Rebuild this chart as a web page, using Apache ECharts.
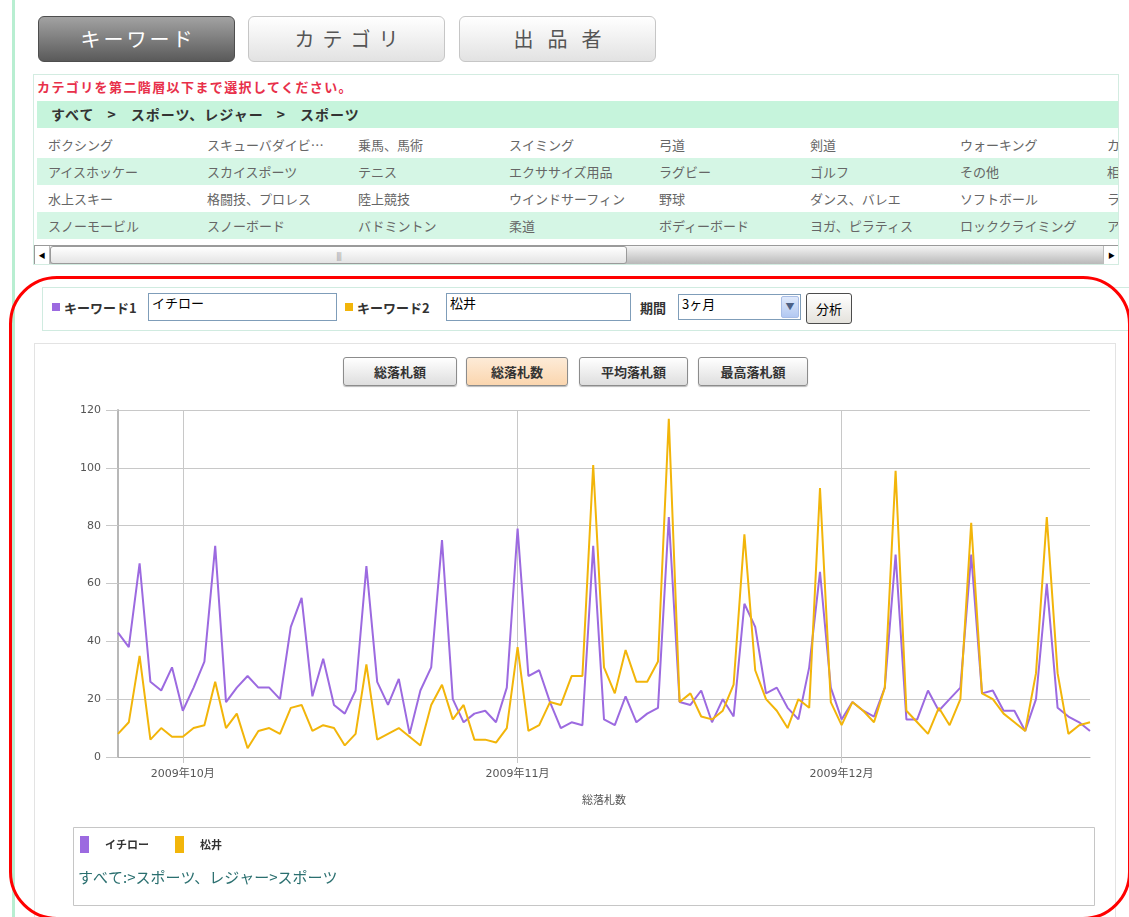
<!DOCTYPE html>
<html><head><meta charset="utf-8">
<script src="https://cdn.jsdelivr.net/npm/echarts/dist/echarts.min.js"></script>
<style>
html,body{margin:0;padding:0;}
body{width:1129px;height:917px;overflow:hidden;background:#fff;position:relative;font-family:"Noto Sans CJK JP",sans-serif;}
.a{position:absolute;box-sizing:border-box;white-space:nowrap;}
.tab{border-radius:6px;text-align:center;line-height:44px;font-size:20px;height:46px;top:16px;}
.tab.on{background:linear-gradient(#a2a2a2,#5a5a5a);border:1px solid #4e4e4e;color:#fff;}
.tab.off{background:linear-gradient(#ffffff,#e2e2e2);border:1px solid #c6c6c6;color:#555;}
.row{left:37px;width:1081px;height:27px;}
.row.g{background:#d5f6e5;}
.cell{font-size:13px;color:#666;line-height:27px;top:0;}
.lbl{font-size:13px;font-weight:bold;color:#333;line-height:16px;}
.inp{border:1px solid #7f9db9;background:#fff;font-size:13px;color:#000;padding:1px 3px;line-height:16px;}
.cbtn{top:357px;height:29px;border:1px solid #8c8c8c;border-radius:3px;background:linear-gradient(#ffffff,#dedede);font-size:13px;font-weight:bold;color:#333;text-align:center;line-height:27px;box-shadow:0 1px 1px #bbb;}
.cbtn.on{background:linear-gradient(#fdebd7,#fbd6af);}
</style>
</head><body>
<!-- left green guide line -->
<div class="a" style="left:12px;top:0;width:3px;height:917px;background:#b8eed1;"></div>

<!-- top tabs -->
<div class="a tab on" style="left:38px;width:197px;letter-spacing:3px;padding-left:3px;">キーワード</div>
<div class="a tab off" style="left:248px;width:197px;letter-spacing:8px;padding-left:8px;">カテゴリ</div>
<div class="a tab off" style="left:459px;width:197px;letter-spacing:14px;padding-left:14px;">出品者</div>

<!-- category box -->
<div class="a" style="left:33px;top:74px;width:1086px;height:191px;border:1px solid #d3ece1;overflow:hidden;">
  <div class="a" style="left:3px;top:4px;font-size:13px;font-weight:bold;color:#e8304a;letter-spacing:1.4px;line-height:16px;">カテゴリを第二階層以下まで選択してください。</div>
  <div class="a" style="left:3px;top:26px;width:1081px;height:27px;background:#c6f4dc;"></div>
  <div class="a" style="left:17px;top:26px;line-height:27px;font-size:14px;font-weight:bold;color:#333;letter-spacing:1px;">すべて<span style="margin:0 14px 0 13px;">&gt;</span>スポーツ、レジャー<span style="margin:0 14px 0 13px;">&gt;</span>スポーツ</div>
  <div class="a row" style="left:3px;top:56px;">
    <span class="a cell" style="left:11px;">ボクシング</span><span class="a cell" style="left:170px;">スキューバダイビ…</span><span class="a cell" style="left:321px;">乗馬、馬術</span><span class="a cell" style="left:472px;">スイミング</span><span class="a cell" style="left:622px;">弓道</span><span class="a cell" style="left:773px;">剣道</span><span class="a cell" style="left:923px;">ウォーキング</span><span class="a cell" style="left:1070px;">カヌー</span>
  </div>
  <div class="a row g" style="left:3px;top:83px;">
    <span class="a cell" style="left:11px;">アイスホッケー</span><span class="a cell" style="left:170px;">スカイスポーツ</span><span class="a cell" style="left:321px;">テニス</span><span class="a cell" style="left:472px;">エクササイズ用品</span><span class="a cell" style="left:622px;">ラグビー</span><span class="a cell" style="left:773px;">ゴルフ</span><span class="a cell" style="left:923px;">その他</span><span class="a cell" style="left:1070px;">相撲</span>
  </div>
  <div class="a row" style="left:3px;top:110px;">
    <span class="a cell" style="left:11px;">水上スキー</span><span class="a cell" style="left:170px;">格闘技、プロレス</span><span class="a cell" style="left:321px;">陸上競技</span><span class="a cell" style="left:472px;">ウインドサーフィン</span><span class="a cell" style="left:622px;">野球</span><span class="a cell" style="left:773px;">ダンス、バレエ</span><span class="a cell" style="left:923px;">ソフトボール</span><span class="a cell" style="left:1070px;">ラクロス</span>
  </div>
  <div class="a row g" style="left:3px;top:137px;">
    <span class="a cell" style="left:11px;">スノーモービル</span><span class="a cell" style="left:170px;">スノーボード</span><span class="a cell" style="left:321px;">バドミントン</span><span class="a cell" style="left:472px;">柔道</span><span class="a cell" style="left:622px;">ボディーボード</span><span class="a cell" style="left:773px;">ヨガ、ピラティス</span><span class="a cell" style="left:923px;">ロッククライミング</span><span class="a cell" style="left:1070px;">アーチェリー</span>
  </div>
  <!-- scrollbar -->
  <div class="a" style="left:0;top:170px;width:1086px;height:20px;border:1px solid #9a9a9a;background:linear-gradient(#f4f4f4,#b9b9b9);">
    <div class="a" style="left:0;top:0;width:15px;height:18px;background:#fff;border-right:1px solid #bbb;font-size:7px;line-height:18px;text-align:center;color:#000;">◀</div>
    <div class="a" style="left:15px;top:0;width:577px;height:18px;background:linear-gradient(#ffffff,#e4e4e4);border:1px solid #9a9a9a;border-radius:3px;text-align:center;font-size:8px;line-height:17px;color:#999;letter-spacing:-1px;">||||</div>
    <div class="a" style="left:1068px;top:0;width:16px;height:18px;background:#fff;border-left:1px solid #bbb;font-size:7px;line-height:18px;text-align:center;color:#000;">▶</div>
  </div>
</div>

<!-- search form box -->
<div class="a" style="left:42px;top:287px;width:1090px;height:44px;border:1px solid #d0ebe0;"></div>
<div class="a" style="left:52px;top:303px;width:8px;height:8px;background:#9c6ae0;"></div>
<div class="a lbl" style="left:64px;top:300px;">キーワード1</div>
<div class="a inp" style="left:148px;top:293px;width:189px;height:28px;">イチロー</div>
<div class="a" style="left:345px;top:303px;width:8px;height:8px;background:#f2b50a;"></div>
<div class="a lbl" style="left:357px;top:300px;">キーワード2</div>
<div class="a inp" style="left:446px;top:293px;width:185px;height:28px;">松井</div>
<div class="a lbl" style="left:640px;top:300px;">期間</div>
<div class="a inp" style="left:678px;top:294px;width:123px;height:26px;">3ヶ月
  <div class="a" style="right:1px;top:1px;width:18px;height:22px;background:linear-gradient(#dfe9fb,#b2c8f2);border:1px solid #a8bde6;border-radius:2px;font-size:9px;line-height:20px;text-align:center;color:#4d6185;">▼</div>
</div>
<div class="a" style="left:806px;top:293px;width:46px;height:31px;border:1px solid #4c4c4c;border-radius:3px;background:linear-gradient(#ffffff,#e4e2dc);font-size:13px;text-align:center;line-height:29px;color:#000;">分析</div>

<!-- chart box -->
<div class="a" style="left:34px;top:343px;width:1082px;height:600px;border:1px solid #e3e3e3;"></div>
<div class="a cbtn" style="left:343px;width:114px;">総落札額</div>
<div class="a cbtn on" style="left:466px;width:102px;">総落札数</div>
<div class="a cbtn" style="left:579px;width:109px;">平均落札額</div>
<div class="a cbtn" style="left:698px;width:110px;">最高落札額</div>

<div id="chart" class="a" style="left:35px;top:390px;width:1080px;height:527px;"></div>

<!-- red highlight outline -->
<div class="a" style="left:9px;top:276px;width:1122px;height:644px;border:3px solid #ff0000;border-radius:48px;pointer-events:none;"></div>

<script>
const dates = [
"2009-09-25","2009-09-26","2009-09-27","2009-09-28","2009-09-29","2009-09-30",
"2009-10-01","2009-10-02","2009-10-03","2009-10-04","2009-10-05","2009-10-06","2009-10-07","2009-10-08","2009-10-09","2009-10-10",
"2009-10-11","2009-10-12","2009-10-13","2009-10-14","2009-10-15","2009-10-16","2009-10-17","2009-10-18","2009-10-19","2009-10-20",
"2009-10-21","2009-10-22","2009-10-23","2009-10-24","2009-10-25","2009-10-26","2009-10-27","2009-10-28","2009-10-29","2009-10-30","2009-10-31",
"2009-11-01","2009-11-02","2009-11-03","2009-11-04","2009-11-05","2009-11-06","2009-11-07","2009-11-08","2009-11-09","2009-11-10",
"2009-11-11","2009-11-12","2009-11-13","2009-11-14","2009-11-15","2009-11-16","2009-11-17","2009-11-18","2009-11-19","2009-11-20",
"2009-11-21","2009-11-22","2009-11-23","2009-11-24","2009-11-25","2009-11-26","2009-11-27","2009-11-28","2009-11-29","2009-11-30",
"2009-12-01","2009-12-02","2009-12-03","2009-12-04","2009-12-05","2009-12-06","2009-12-07","2009-12-08","2009-12-09","2009-12-10",
"2009-12-11","2009-12-12","2009-12-13","2009-12-14","2009-12-15","2009-12-16","2009-12-17","2009-12-18","2009-12-19","2009-12-20",
"2009-12-21","2009-12-22","2009-12-23","2009-12-24"
];
const ichiro = [43,38,67,26,23,31,16,24,33,73,19,24,28,24,24,20,45,55,21,34,18,15,23,66,26,18,27,8,23,31,75,20,12,15,16,12,24,79,28,30,19,10,12,11,73,13,11,21,12,15,17,83,19,18,23,12,20,14,53,45,22,24,17,13,31,64,24,13,19,16,14,24,70,13,13,23,16,20,24,70,22,23,16,16,9,20,60,17,14,12,9];
const matsui = [8,12,35,6,10,7,7,10,11,26,10,15,3,9,10,8,17,18,9,11,10,4,8,32,6,8,10,7,4,18,25,13,18,6,6,5,10,38,9,11,19,18,28,28,101,31,22,37,26,26,33,117,19,22,14,13,16,25,77,30,20,16,10,20,17,93,19,11,19,16,12,24,99,16,12,8,17,11,20,81,22,20,15,12,9,29,83,29,8,11,12];
const seriesNames = ["イチロー","松井"];
const seriesColors = ["#9c6ae0","#f2b50a"];
const axisName = "総落札数";
const pathText = "すべて:>スポーツ、レジャー>スポーツ";

const isMonthStart = (i, v) => String(v).slice(8) === "01";
const lblFont = '"DejaVu Sans","Noto Sans CJK JP",sans-serif';

const chart = echarts.init(document.getElementById('chart'));
chart.setOption({
  animation: false,
  grid: {left: 83, right: 25, top: 20, height: 347},
  xAxis: {
    type: 'category', data: dates, boundaryGap: false,
    axisLine: {lineStyle: {color: '#b0b0b0'}},
    axisTick: {show: true, interval: isMonthStart, length: 6, lineStyle: {color: '#c8c8c8'}},
    axisLabel: {interval: isMonthStart, color: '#555', fontSize: 11, margin: 12, fontFamily: lblFont,
      formatter: v => { const p = v.split('-'); return p[0] + '年' + (+p[1]) + '月'; }},
    splitLine: {show: true, interval: isMonthStart, lineStyle: {color: '#c8c8c8'}},
    name: axisName, nameLocation: 'middle', nameGap: 37,
    nameTextStyle: {color: '#555', fontSize: 11, fontFamily: '"Noto Sans CJK JP",sans-serif'}
  },
  yAxis: {
    type: 'value', min: 0, max: 120, interval: 20,
    axisLine: {show: true, lineStyle: {color: '#b8b8b8', width: 2}},
    axisTick: {show: true, length: 12, lineStyle: {color: '#c8c8c8'}},
    axisLabel: {color: '#555', fontSize: 11, margin: 17, fontFamily: lblFont},
    splitLine: {lineStyle: {color: '#c8c8c8'}}
  },
  legend: {
    left: 45, top: 446, padding: 0, icon: 'rect', itemWidth: 9, itemHeight: 17, itemGap: 26,
    data: seriesNames,
    textStyle: {fontSize: 11, fontWeight: 'bold', color: '#333', padding: [0, 0, 0, 11],
      fontFamily: '"Noto Sans CJK JP",sans-serif'}
  },
  graphic: [
    {type: 'rect', left: 36, top: 435, shape: {width: 1021, height: 78},
      style: {fill: 'none', stroke: '#c6c6c6', lineWidth: 1}},
    {type: 'text', left: 43, top: 480,
      style: {text: pathText, fill: '#2a6f6f', font: '15px "Noto Sans CJK JP", sans-serif'}}
  ],
  series: [
    {name: seriesNames[0], type: 'line', data: ichiro, symbol: 'none', color: seriesColors[0],
      lineStyle: {width: 2}},
    {name: seriesNames[1], type: 'line', data: matsui, symbol: 'none', color: seriesColors[1],
      lineStyle: {width: 2}}
  ]
});
</script>
</body></html>
